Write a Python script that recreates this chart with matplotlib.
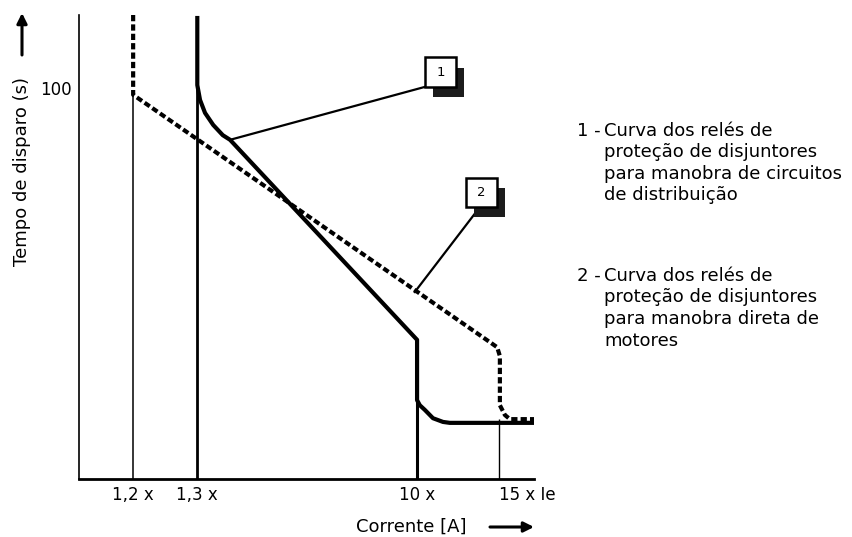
import matplotlib
matplotlib.use("Agg")
import matplotlib.pyplot as plt
from matplotlib.patches import Rectangle

plt.rcParams["font.family"] = ["DejaVu Sans"]

W, H = 852, 537

# schematic axis: 0..100 in both directions (no real scale on the drawing)
X_TICK_POS = [11.9, 26.0, 74.3, 92.3]
X_TICK_LABELS = ["1,2 x", "1,3 x", "10 x", "15 x Ie"]
Y_TICK_POS = [84.3]
Y_TICK_LABELS = ["100"]

# curve 1 - circuit distribution breakers (solid)
CURVE1_X = [26.0, 26.0, 26.6, 27.7, 29.5, 31.6, 33.2, 74.3, 74.3, 74.9, 76.0, 77.8, 80.0, 81.5, 100.2]
CURVE1_Y = [99.8, 84.9, 81.7, 78.9, 76.3, 74.1, 73.1, 30.0, 17.0, 15.9, 14.9, 13.1, 12.3, 12.1, 12.1]

# curve 2 - direct motor switching (dotted)
CURVE2_X = [11.9, 11.9, 90.3, 91.9, 92.5, 92.5, 93.6, 94.7, 100.2]
CURVE2_Y = [100.0, 82.8, 29.5, 28.4, 26.5, 15.9, 13.8, 12.9, 12.9]

# vertical drop lines from the curves down to the current axis
DROP_X = [11.9, 26.0, 74.3, 92.3]
DROP_TOP = [82.8, 84.9, 17.0, 12.9]
DROP_LW = [1.1, 2.0, 2.2, 1.0]

# numbered callouts: box centre, where the leader line meets the box and the curve
CALLOUT_LABELS = ["1", "2"]
CALLOUT_CENTER = [(79.45, 87.7), (88.45, 61.75)]
CALLOUT_ANCHOR = [(76.0, 84.5), (88.1, 58.6)]
CALLOUT_TARGET = [(33.2, 73.1), (73.8, 40.3)]

LEGEND_1 = ["Curva dos relés de", "proteção de disjuntores",
            "para manobra de circuitos", "de distribuição"]
LEGEND_2 = ["Curva dos relés de", "proteção de disjuntores",
            "para manobra direta de", "motores"]


def fig_xy(x, y):
    return x / W, 1 - y / H


fig = plt.figure(figsize=(W / 100, H / 100), dpi=100)
ax = fig.add_axes([79 / W, 1 - 479 / H, (534 - 79) / W, (479 - 15) / H])
ax.set_xlim(0, 100)
ax.set_ylim(0, 100)
for side in ("top", "right"):
    ax.spines[side].set_visible(False)
ax.spines["left"].set_linewidth(1.2)
ax.spines["bottom"].set_linewidth(2.0)

ax.set_xticks(X_TICK_POS, X_TICK_LABELS, fontsize=12)
ax.set_yticks(Y_TICK_POS, Y_TICK_LABELS, fontsize=12)
ax.tick_params(length=0)
ax.tick_params(axis="x", pad=5)
ax.tick_params(axis="y", pad=5)
ax.get_xticklabels()[-1].set_ha("left")

for x, top, lw in zip(DROP_X, DROP_TOP, DROP_LW):
    ax.plot([x, x], [0, top], color="black", lw=lw, solid_capstyle="butt", zorder=2)

ax.plot(CURVE1_X, CURVE1_Y, color="black", lw=3.0, solid_capstyle="butt", zorder=3)
ax.plot(CURVE2_X, CURVE2_Y, color="black", lw=3.0, ls=(0, (1.5, 0.75)),
        dash_capstyle="butt", zorder=3)

bw, bh = 6.8, 6.3
for label, (cx, cy), (ax0, ay0), (tx, ty) in zip(CALLOUT_LABELS, CALLOUT_CENTER,
                                                  CALLOUT_ANCHOR, CALLOUT_TARGET):
    ax.plot([tx, ax0], [ty, ay0], color="black", lw=1.6, zorder=3, clip_on=False)
    ax.add_patch(Rectangle((cx - bw / 2 + 1.8, cy - bh / 2 - 2.2), bw, bh,
                           facecolor="#1c1c1c", edgecolor="none", zorder=4, clip_on=False))
    ax.add_patch(Rectangle((cx - bw / 2, cy - bh / 2), bw, bh, facecolor="white",
                           edgecolor="black", lw=1.8, zorder=5, clip_on=False))
    ax.text(cx, cy, label, ha="center", va="center", fontsize=9.5, zorder=6)

fig.text(*fig_xy(22, 172), "Tempo de disparo (s)", rotation=90, ha="center",
         va="center", fontsize=13)
fig.text(*fig_xy(411, 527), "Corrente [A]", ha="center", va="center", fontsize=13)

arrow = dict(arrowstyle="-|>", lw=2.2, color="black", mutation_scale=15,
             shrinkA=0, shrinkB=0)
ax.annotate("", xy=(534, H - 527), xytext=(490, H - 527), xycoords="figure pixels",
            textcoords="figure pixels", arrowprops=arrow)
ax.annotate("", xy=(22, H - 13), xytext=(22, H - 55), xycoords="figure pixels",
            textcoords="figure pixels", arrowprops=arrow)

for num, lines, base in (("1 -", LEGEND_1, 136), ("2 -", LEGEND_2, 281)):
    fig.text(*fig_xy(577, base), num, ha="left", va="baseline", fontsize=13)
    for i, line in enumerate(lines):
        fig.text(*fig_xy(604, base + 21.5 * i), line, ha="left", va="baseline",
                 fontsize=13)

fig.savefig("out.png", dpi=100)
